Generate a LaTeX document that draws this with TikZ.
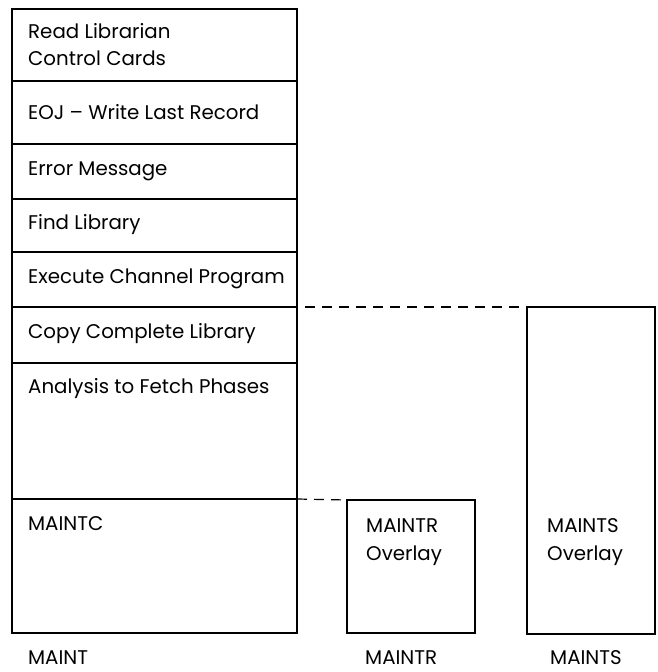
\documentclass[tikz,border=0pt]{standalone}
\usepackage{fontspec}
\setmainfont{Poppins}
\begin{document}
\begin{tikzpicture}[x=1pt,y=-1pt,
  box/.style={draw, line width=1.4pt, minimum width=285pt, anchor=north west, inner sep=0pt, outer sep=0pt},
  ovl/.style={draw, line width=1.4pt, minimum width=128pt, anchor=north west, inner sep=0pt, outer sep=0pt},
  txt/.style={anchor=base west, inner sep=0pt, font=\fontsize{19.8}{26}\selectfont},
  lead/.style={dashed, dash pattern=on 10pt off 7pt, line width=1.2pt}]
\useasboundingbox (0,0) rectangle (658,672);

% MAINT phase: stacked routines
\node[box, minimum height=72pt]  (read) at (12,9) {};
\node[box, minimum height=63pt]  (eoj)  at (12,81) {};
\node[box, minimum height=55pt]  (err)  at (12,144) {};
\node[box, minimum height=53pt]  (find) at (12,199) {};
\node[box, minimum height=55pt]  (exec) at (12,252) {};
\node[box, minimum height=56pt]  (copy) at (12,307) {};
\node[box, minimum height=136pt] (anal) at (12,363) {};
\node[box, minimum height=134pt] (maintc) at (12,499) {};

\node[txt] (treada) at (28,38)  {Read Librarian};
\node[txt] (treadb) at (28,65)  {Control Cards};
\node[txt] (teoj)   at (28,119) {EOJ -- Write Last Record};
\node[txt] (terr)   at (28,175) {Error Message};
\node[txt] (tfind)  at (28,229) {Find Library};
\node[txt] (texec)  at (28,283) {Execute Channel Program};
\node[txt] (tcopy)  at (28,338) {Copy Complete Library};
\node[txt] (tanal)  at (28,393) {Analysis to Fetch Phases};
\node[txt] (tmaintc) at (28,530) {MAINTC};

% Overlays
\node[ovl, minimum height=133pt] (maintr) at (347,500) {};
\node[ovl, minimum height=327pt] (maints) at (527,307) {};

\node[txt] (trA) at (366,532) {MAINTR};
\node[txt] (trB) at (366,560) {Overlay};
\node[txt] (tsA) at (547,532) {MAINTS};
\node[txt] (tsB) at (547,560) {Overlay};

% Phase names
\node[txt] (lmaint)  at (28,664)  {MAINT};
\node[txt] (lmaintr) at (365,664) {MAINTR};
\node[txt] (lmaints) at (550,664) {MAINTS};

% Overlay origin leaders
\draw[lead, shorten <=8pt, shorten >=6pt] (copy.north east) -- (maints.north west);
\draw[lead, shorten >=6pt] (maintc.north east) -- (maintr.north west);
\end{tikzpicture}
\end{document}
